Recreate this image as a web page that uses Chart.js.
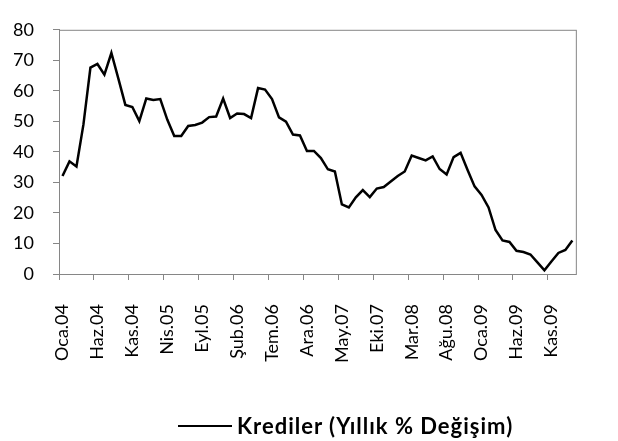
<!DOCTYPE html>
<html lang="tr">
<head>
    <meta charset="UTF-8">
    <title>Krediler (Yıllık % Değişim)</title>
    <script src="https://cdn.jsdelivr.net/npm/chart.js"></script>
    <style>
        body { margin: 0; background: #fff; font-family: Lato, sans-serif; }
        #wrap { position: relative; width: 618px; height: 441px; }
        #legend { position: absolute; left: 178px; top: 412px; height: 28px; display: flex; align-items: center;
                  font-weight: bold; font-size: 22px; line-height: 28px; letter-spacing: 1px; color: #000; white-space: nowrap; }
        #legend .swatch { width: 54px; height: 2.5px; background: #000; margin-right: 5px; }
    </style>
</head>
<body>
    <div id="wrap">
        <canvas id="chart" width="618" height="441"></canvas>
        <div id="legend"></div>
    </div>

    <script>
        const MONTHS = ['Oca', 'Şub', 'Mar', 'Nis', 'May', 'Haz', 'Tem', 'Ağu', 'Eyl', 'Eki', 'Kas', 'Ara'];
        const YEARS = ['04', '05', '06', '07', '08', '09', '10'];
        const SERIES_LABEL = 'Krediler (Yıllık % Değişim)';

        // monthly values, Oca.04 .. Şub.10
        const krediler = [
            32.1, 36.9, 35.2, 49.0, 67.6, 68.8, 65.3, 72.4, 64.0, 55.4, 54.7, 50.1,
            57.5, 57.0, 57.3, 50.6, 45.2, 45.2, 48.5, 48.8, 49.6, 51.4, 51.6, 57.5,
            51.1, 52.6, 52.4, 51.1, 60.9, 60.4, 57.3, 51.3, 49.9, 45.7, 45.4, 40.3,
            40.3, 38.0, 34.3, 33.6, 22.8, 21.8, 25.1, 27.5, 25.2, 28.0, 28.5, 30.3,
            32.1, 33.6, 38.8, 38.0, 37.2, 38.5, 34.4, 32.6, 38.3, 39.7, 34.1, 28.7,
            25.9, 21.8, 14.4, 11.0, 10.5, 7.6, 7.2, 6.4, 3.8, 1.2, 4.1, 6.9,
            7.9, 11.0
        ];

        const labels = [];
        for (let i = 0; i < krediler.length; i++) {
            labels.push(MONTHS[i % 12] + '.' + YEARS[Math.floor(i / 12)]);
        }

        const axisGray = '#868686';
        const tickFont = { family: 'Lato', size: 18 };

        // Excel-style box around the plot area
        const plotBorder = {
            id: 'plotBorder',
            afterDraw(chart) {
                const a = chart.chartArea;
                const ctx = chart.ctx;
                ctx.save();
                ctx.strokeStyle = axisGray;
                ctx.lineWidth = 1;
                ctx.strokeRect(a.left + 0.5, a.top + 0.5, a.right - a.left, a.bottom - a.top);
                ctx.restore();
            }
        };

        new Chart(document.getElementById('chart'), {
            type: 'line',
            data: {
                labels: labels,
                datasets: [{
                    label: SERIES_LABEL,
                    data: krediler,
                    borderColor: '#000',
                    backgroundColor: '#000',
                    borderWidth: 2.5,
                    pointRadius: 0,
                    tension: 0,
                    fill: false
                }]
            },
            options: {
                responsive: false,
                animation: false,
                layout: { padding: { top: 15, right: 8, bottom: 0, left: 0 } },
                plugins: { legend: { display: false }, tooltip: { enabled: false } },
                scales: {
                    x: {
                        offset: true,
                        grid: {
                            offset: true,
                            drawOnChartArea: false,
                            tickLength: 6,
                            color: (c) => (c.index % 5 === 0 ? axisGray : 'rgba(0,0,0,0)')
                        },
                        border: { color: axisGray },
                        ticks: {
                            autoSkip: false,
                            maxRotation: 90,
                            minRotation: 90,
                            padding: 24,
                            color: '#000',
                            font: tickFont,
                            callback: (v, i) => (i % 5 === 0 ? labels[i] : '')
                        },
                        afterFit: (s) => { s.height = 167; }
                    },
                    y: {
                        min: 0,
                        max: 80,
                        grid: { drawOnChartArea: false, tickLength: 6, color: axisGray },
                        border: { color: axisGray },
                        ticks: { stepSize: 10, padding: 19, color: '#000', font: tickFont },
                        afterFit: (s) => { s.width = 59; }
                    }
                }
            },
            plugins: [plotBorder]
        });

        const legend = document.getElementById('legend');
        legend.innerHTML = '<span class="swatch"></span><span>' + SERIES_LABEL + '</span>';
    </script>
</body>
</html>
